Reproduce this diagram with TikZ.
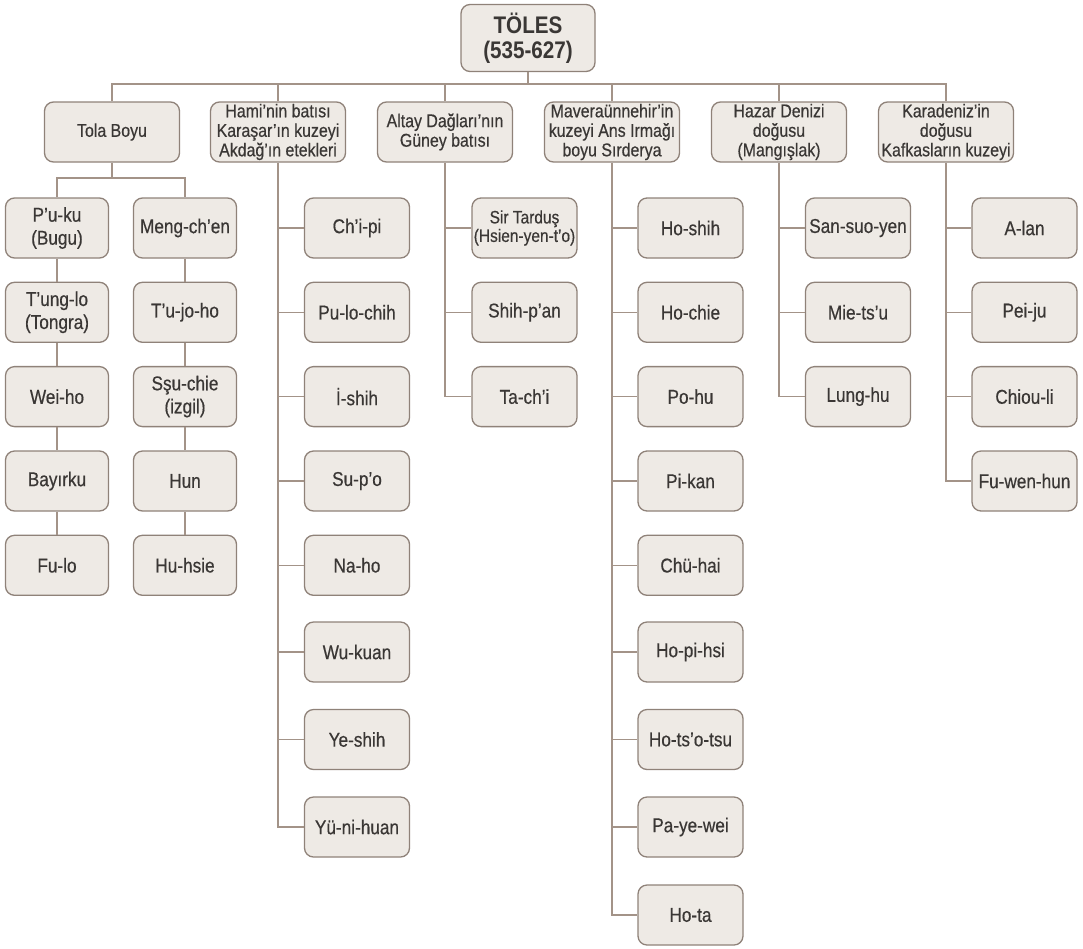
\documentclass[tikz,border=0pt]{standalone}
\usepackage{fontspec}
\setmainfont{Liberation Sans}[FakeStretch=0.86]
\newfontfamily\medfont{Liberation Sans}[FakeStretch=0.86, FakeBold=0.5]
\definecolor{boxfill}{HTML}{EEEAE5}
\definecolor{boxline}{HTML}{8F8279}
\definecolor{linec}{HTML}{A39388}
\definecolor{txt}{HTML}{3A3735}
\newcommand\rowY[1]{\ifcase#1 228\or 312.3\or 396.6\or 481\or 565.3\or 652\or 739.5\or 827\or 915\fi}
\begin{document}
\begin{tikzpicture}[x=1pt,y=-1pt,
  box/.style={draw=boxline, fill=boxfill, rounded corners=9pt, line width=1.3pt,
    text=txt, align=center, inner sep=0pt, minimum height=60pt},
  head/.style={box, minimum width=135pt, font=\medfont\fontsize{18.5}{19.5}\selectfont},
  leaf/.style={box, minimum width=105pt, font=\medfont\fontsize{20}{23}\selectfont},
  small/.style={font=\medfont\fontsize{18}{18.5}\selectfont},
  top/.style={box, minimum width=134pt, minimum height=67pt, font=\bfseries\fontsize{24}{25}\selectfont},
  conn/.style={draw=linec, line width=1.2pt}]
\useasboundingbox (0,0) rectangle (1083,948);
% root
\node[top] (T) at (528,38) {TÖLES\\(535-627)};
% headers
\node[head] (H1) at (112,132) {Tola Boyu};
\node[head] (H2) at (278,132) {Hami’nin batısı\\Karaşar’ın kuzeyi\\Akdağ’ın etekleri};
\node[head] (H3) at (445,132) {Altay Dağları’nın\\Güney batısı};
\node[head] (H4) at (612,132) {Maveraünnehir’in\\kuzeyi Ans Irmağı\\boyu Sırderya};
\node[head] (H5) at (779,132) {Hazar Denizi\\doğusu\\(Mangışlak)};
\node[head] (H6) at (946,132) {Karadeniz’in\\doğusu\\Kafkasların kuzeyi};
\coordinate (bus) at (528,84);
\draw[conn] (T.south) -- (T.south |- bus);
\draw[conn] (H1.north) |- (H6.north |- bus) -- (H6.north);
\foreach \k in {2,3,4,5} \draw[conn] (H\k.north) -- (H\k.north |- bus);
% Tola columns
\foreach \t [count=\i from 0] in {{P’u-ku\\(Bugu)},{T’ung-lo\\(Tongra)},{Wei-ho},{Bayırku},{Fu-lo}}
  \node[leaf, minimum width=103pt] (a\i) at (57,\rowY{\i}) {\t};
\foreach \t [count=\i from 0] in {{Meng-ch’en},{T’u-jo-ho},{Sşu-chie\\(izgil)},{Hun},{Hu-hsie}}
  \node[leaf, minimum width=103pt] (b\i) at (185,\rowY{\i}) {\t};
\coordinate (tb) at (112,178);
\draw[conn] (H1.south) -- (H1.south |- tb);
\draw[conn] (a0.north) -- (a0.north |- tb) -- (b0.north |- tb) -- (b0.north);
\foreach \i [evaluate=\i as \j using int(\i+1)] in {0,1,2,3} {
  \draw[conn] (a\i.south) -- (a\j.north);
  \draw[conn] (b\i.south) -- (b\j.north);
}
% Hami column
\foreach \t [count=\i from 0] in {{Ch’i-pi},{Pu-lo-chih},{İ-shih},{Su-p’o},{Na-ho},{Wu-kuan},{Ye-shih},{Yü-ni-huan}}
  \node[leaf] (h\i) at (357,\rowY{\i}) {\t};
\draw[conn] (H2.south) |- (h7.west);
\foreach \i in {0,...,6} \draw[conn] (H2.south |- h\i.west) -- (h\i.west);
% Altay column
\node[leaf, small] (l0) at (524.5,\rowY{0}) {Sir Tarduş\\(Hsien-yen-t’o)};
\node[leaf] (l1) at (524.5,\rowY{1}) {Shih-p’an};
\node[leaf] (l2) at (524.5,\rowY{2}) {Ta-ch’i};
\draw[conn] (H3.south) |- (l2.west);
\foreach \i in {0,1} \draw[conn] (H3.south |- l\i.west) -- (l\i.west);
% Maveraunnehir column
\foreach \t [count=\i from 0] in {{Ho-shih},{Ho-chie},{Po-hu},{Pi-kan},{Chü-hai},{Ho-pi-hsi},{Ho-ts’o-tsu},{Pa-ye-wei},{Ho-ta}}
  \node[leaf] (m\i) at (690.5,\rowY{\i}) {\t};
\draw[conn] (H4.south) |- (m8.west);
\foreach \i in {0,...,7} \draw[conn] (H4.south |- m\i.west) -- (m\i.west);
% Hazar column
\foreach \t [count=\i from 0] in {{San-suo-yen},{Mie-ts’u},{Lung-hu}}
  \node[leaf] (z\i) at (858,\rowY{\i}) {\t};
\draw[conn] (H5.south) |- (z2.west);
\foreach \i in {0,1} \draw[conn] (H5.south |- z\i.west) -- (z\i.west);
% Karadeniz column
\foreach \t [count=\i from 0] in {{A-lan},{Pei-ju},{Chiou-li},{Fu-wen-hun}}
  \node[leaf] (k\i) at (1024.5,\rowY{\i}) {\t};
\draw[conn] (H6.south) |- (k3.west);
\foreach \i in {0,1,2} \draw[conn] (H6.south |- k\i.west) -- (k\i.west);
\end{tikzpicture}
\end{document}
